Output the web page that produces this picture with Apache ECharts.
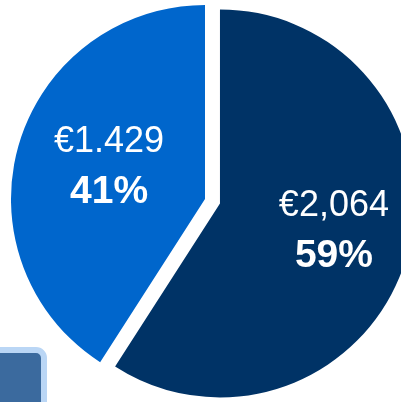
<!DOCTYPE html>
<html>
<head>
<meta charset="utf-8">
<script src="https://cdn.jsdelivr.net/npm/echarts@6/dist/echarts.min.js"></script>
<style>
html,body{margin:0;padding:0;background:#fff;}
#chart{width:401px;height:402px;}
</style>
</head>
<body>
<div id="chart"></div>
<script>
var categories = ['Segment A', 'Segment B'];
var values = [2064, 1429];
var valueLabels = ['€2,064', '€1.429'];
var colors = ['#003366', '#0066CC'];

var chart = echarts.init(document.getElementById('chart'), null, {renderer: 'canvas'});
var FONT = '"Liberation Sans", Arial, sans-serif';

var data = categories.map(function (c, i) {
  return {
    name: c,
    value: values[i],
    selected: i === 0,
    itemStyle: {color: colors[i]},
    select: {itemStyle: {color: colors[i], borderWidth: 0}},
    label: i === 0 ? {padding: [4, 0, 0, 36]} : {padding: [0, 0, 4, 0]}
  };
});

chart.setOption({
  animation: false,
  graphic: [{
    type: 'rect',
    shape: {x: -20, y: 350, width: 64, height: 80, r: 8},
    style: {fill: '#3B6A9E', stroke: '#BAD6F5', lineWidth: 6},
    silent: true
  }],
  series: [{
    type: 'pie',
    center: [205, 199],
    radius: [0, 194],
    startAngle: 90,
    clockwise: true,
    selectedMode: 'single',
    selectedOffset: 15.6,
    emphasis: {disabled: true},
    labelLine: {show: false},
    label: {
      show: true,
      position: 'inside',
      fontFamily: FONT,
      color: '#fff',
      formatter: function (p) {
        return '{v|' + valueLabels[p.dataIndex] + '}\n{p|' + Math.round(p.percent) + '%}';
      },
      rich: {
        v: {fontSize: 36, lineHeight: 46, color: '#fff', fontFamily: FONT},
        p: {fontSize: 39, lineHeight: 54, fontWeight: 'bold', color: '#fff', fontFamily: FONT}
      }
    },
    data: data
  }]
});
</script>
</body>
</html>
